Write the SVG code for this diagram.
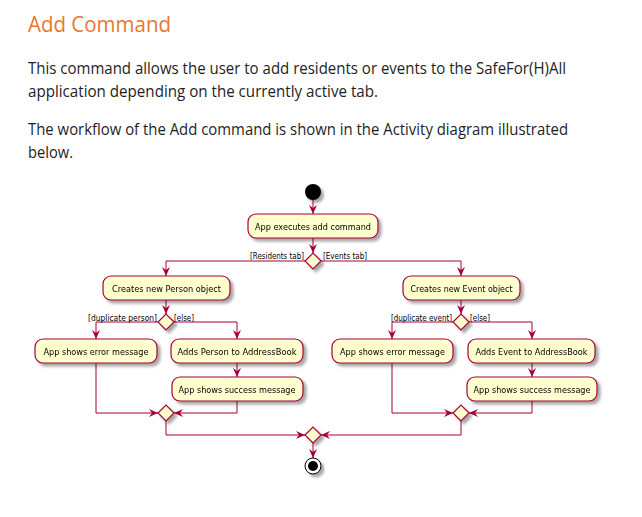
<svg xmlns="http://www.w3.org/2000/svg" width="642" height="517" viewBox="0 0 642 517">
  <style>
    .title { font-family: "Open Sans", "Noto Sans", "Liberation Sans", sans-serif; font-size: 22px; fill: #E8772E; }
    .body { font-family: "Open Sans", "Noto Sans", "Liberation Sans", sans-serif; font-size: 15.5px; fill: #1e1e1e; }
    .act rect { fill: #FEFECE; stroke: #A80036; stroke-width: 1.2; }
    .act text { font-family: "DejaVu Sans", "Liberation Sans", sans-serif; font-size: 9.5px; fill: #000; text-anchor: middle; }
    .dia polygon { fill: #FEFECE; stroke: #A80036; stroke-width: 1.2; }
    .guard { font-family: "DejaVu Sans", "Liberation Sans", sans-serif; font-size: 8.5px; fill: #000; }
    .conn { fill: none; stroke: #A80036; stroke-width: 1; }
  </style>
  <defs>
    <marker id="arrow" markerUnits="userSpaceOnUse" markerWidth="10" markerHeight="10" refX="9" refY="4" orient="auto">
      <path d="M0,0 L9,4 L0,8 L3,4 Z" fill="#A80036"/>
    </marker>
    <filter id="shadow" x="-10%" y="-20%" width="130%" height="160%">
      <feGaussianBlur in="SourceAlpha" stdDeviation="1.5"/>
      <feOffset dx="3" dy="3" result="b"/>
      <feComponentTransfer><feFuncA type="linear" slope="0.35"/></feComponentTransfer>
      <feMerge><feMergeNode/><feMergeNode in="SourceGraphic"/></feMerge>
    </filter>
  </defs>

  <rect width="642" height="517" fill="#ffffff"/>

  <!-- heading and intro paragraph -->
  <text class="title" x="28" y="32" textLength="143" lengthAdjust="spacingAndGlyphs">Add Command</text>
  <text class="body" x="28" y="74" textLength="538" lengthAdjust="spacingAndGlyphs">This command allows the user to add residents or events to the SafeFor(H)All</text>
  <text class="body" x="28" y="97" textLength="350" lengthAdjust="spacingAndGlyphs">application depending on the currently active tab.</text>
  <text class="body" x="28" y="135" textLength="540" lengthAdjust="spacingAndGlyphs">The workflow of the Add command is shown in the Activity diagram illustrated</text>
  <text class="body" x="28" y="158" textLength="45" lengthAdjust="spacingAndGlyphs">below.</text>

  <!-- connectors -->
  <g id="connectors" class="conn">
    <path d="M313,200 L313,214" marker-end="url(#arrow)"/>
    <path d="M313,238 L313,253" marker-end="url(#arrow)"/>
    <path d="M305,261 L166,261 L166,276" marker-end="url(#arrow)"/>
    <path d="M321,261 L461,261 L461,276" marker-end="url(#arrow)"/>
    <!-- residents branch -->
    <path d="M166,300 L166,314" marker-end="url(#arrow)"/>
    <path d="M158,322 L96,322 L96,339" marker-end="url(#arrow)"/>
    <path d="M174,322 L237,322 L237,339" marker-end="url(#arrow)"/>
    <path d="M237,363 L237,377" marker-end="url(#arrow)"/>
    <path d="M96,363 L96,413 L158,413" marker-end="url(#arrow)"/>
    <path d="M237,401 L237,413 L174,413" marker-end="url(#arrow)"/>
    <path d="M166,421 L166,435 L305,435" marker-end="url(#arrow)"/>
    <!-- events branch -->
    <path d="M461,300 L461,314" marker-end="url(#arrow)"/>
    <path d="M453,322 L392,322 L392,339" marker-end="url(#arrow)"/>
    <path d="M469,322 L532,322 L532,339" marker-end="url(#arrow)"/>
    <path d="M532,363 L532,377" marker-end="url(#arrow)"/>
    <path d="M392,363 L392,413 L453,413" marker-end="url(#arrow)"/>
    <path d="M532,401 L532,413 L469,413" marker-end="url(#arrow)"/>
    <path d="M461,421 L461,435 L321,435" marker-end="url(#arrow)"/>
    <!-- to end -->
    <path d="M313,442 L313,458" marker-end="url(#arrow)"/>
  </g>

  <!-- guard labels -->
  <g id="guards">
    <text class="guard" x="304" y="259" text-anchor="end" textLength="54" lengthAdjust="spacingAndGlyphs">[Residents tab]</text>
    <text class="guard" x="323" y="259" textLength="44" lengthAdjust="spacingAndGlyphs">[Events tab]</text>
    <text class="guard" x="157" y="321" text-anchor="end" textLength="69" lengthAdjust="spacingAndGlyphs">[duplicate person]</text>
    <text class="guard" x="174" y="321" textLength="20" lengthAdjust="spacingAndGlyphs">[else]</text>
    <text class="guard" x="452" y="321" text-anchor="end" textLength="61" lengthAdjust="spacingAndGlyphs">[duplicate event]</text>
    <text class="guard" x="470" y="321" textLength="20" lengthAdjust="spacingAndGlyphs">[else]</text>
  </g>

  <!-- start node -->
  <g id="start">
    <circle cx="313" cy="192" r="8" fill="#000" filter="url(#shadow)"/>
  </g>

  <g id="executeAdd" class="act" filter="url(#shadow)">
    <rect x="248" y="214" width="130" height="24" rx="8"/>
    <text x="313" y="229.5" textLength="116" lengthAdjust="spacingAndGlyphs">App executes add command</text>
  </g>

  <g id="tabChoice" class="dia" filter="url(#shadow)">
    <polygon points="305,261 313,253 321,261 313,269"/>
  </g>

  <!-- residents branch -->
  <g id="newPerson" class="act" filter="url(#shadow)">
    <rect x="103" y="276" width="127" height="24" rx="8"/>
    <text x="166.5" y="291.5" textLength="109" lengthAdjust="spacingAndGlyphs">Creates new Person object</text>
  </g>
  <g id="personChoice" class="dia" filter="url(#shadow)">
    <polygon points="158,322 166,314 174,322 166,330"/>
  </g>
  <g id="personError" class="act" filter="url(#shadow)">
    <rect x="35" y="339" width="122" height="24" rx="8"/>
    <text x="96" y="354.5" textLength="105" lengthAdjust="spacingAndGlyphs">App shows error message</text>
  </g>
  <g id="addPerson" class="act" filter="url(#shadow)">
    <rect x="171" y="339" width="132" height="24" rx="8"/>
    <text x="237" y="354.5" textLength="119" lengthAdjust="spacingAndGlyphs">Adds Person to AddressBook</text>
  </g>
  <g id="personSuccess" class="act" filter="url(#shadow)">
    <rect x="172" y="377" width="131" height="24" rx="8"/>
    <text x="237" y="392.5" textLength="117" lengthAdjust="spacingAndGlyphs">App shows success message</text>
  </g>
  <g id="personMerge" class="dia" filter="url(#shadow)">
    <polygon points="158,413 166,405 174,413 166,421"/>
  </g>

  <!-- events branch -->
  <g id="newEvent" class="act" filter="url(#shadow)">
    <rect x="403" y="276" width="117" height="24" rx="8"/>
    <text x="461.5" y="291.5" textLength="102" lengthAdjust="spacingAndGlyphs">Creates new Event object</text>
  </g>
  <g id="eventChoice" class="dia" filter="url(#shadow)">
    <polygon points="453,322 461,314 469,322 461,330"/>
  </g>
  <g id="eventError" class="act" filter="url(#shadow)">
    <rect x="332" y="339" width="121" height="24" rx="8"/>
    <text x="392.5" y="354.5" textLength="105" lengthAdjust="spacingAndGlyphs">App shows error message</text>
  </g>
  <g id="addEvent" class="act" filter="url(#shadow)">
    <rect x="468" y="339" width="127" height="24" rx="8"/>
    <text x="531.5" y="354.5" textLength="112" lengthAdjust="spacingAndGlyphs">Adds Event to AddressBook</text>
  </g>
  <g id="eventSuccess" class="act" filter="url(#shadow)">
    <rect x="467" y="377" width="130" height="24" rx="8"/>
    <text x="532" y="392.5" textLength="117" lengthAdjust="spacingAndGlyphs">App shows success message</text>
  </g>
  <g id="eventMerge" class="dia" filter="url(#shadow)">
    <polygon points="453,413 461,405 469,413 461,421"/>
  </g>

  <g id="finalMerge" class="dia" filter="url(#shadow)">
    <polygon points="305,435 313,427 321,435 313,443"/>
  </g>

  <!-- end node -->
  <g id="end" filter="url(#shadow)">
    <circle cx="313" cy="466" r="8" fill="#fff" stroke="#000" stroke-width="1"/>
    <circle cx="313" cy="466" r="5" fill="#000"/>
  </g>
</svg>
